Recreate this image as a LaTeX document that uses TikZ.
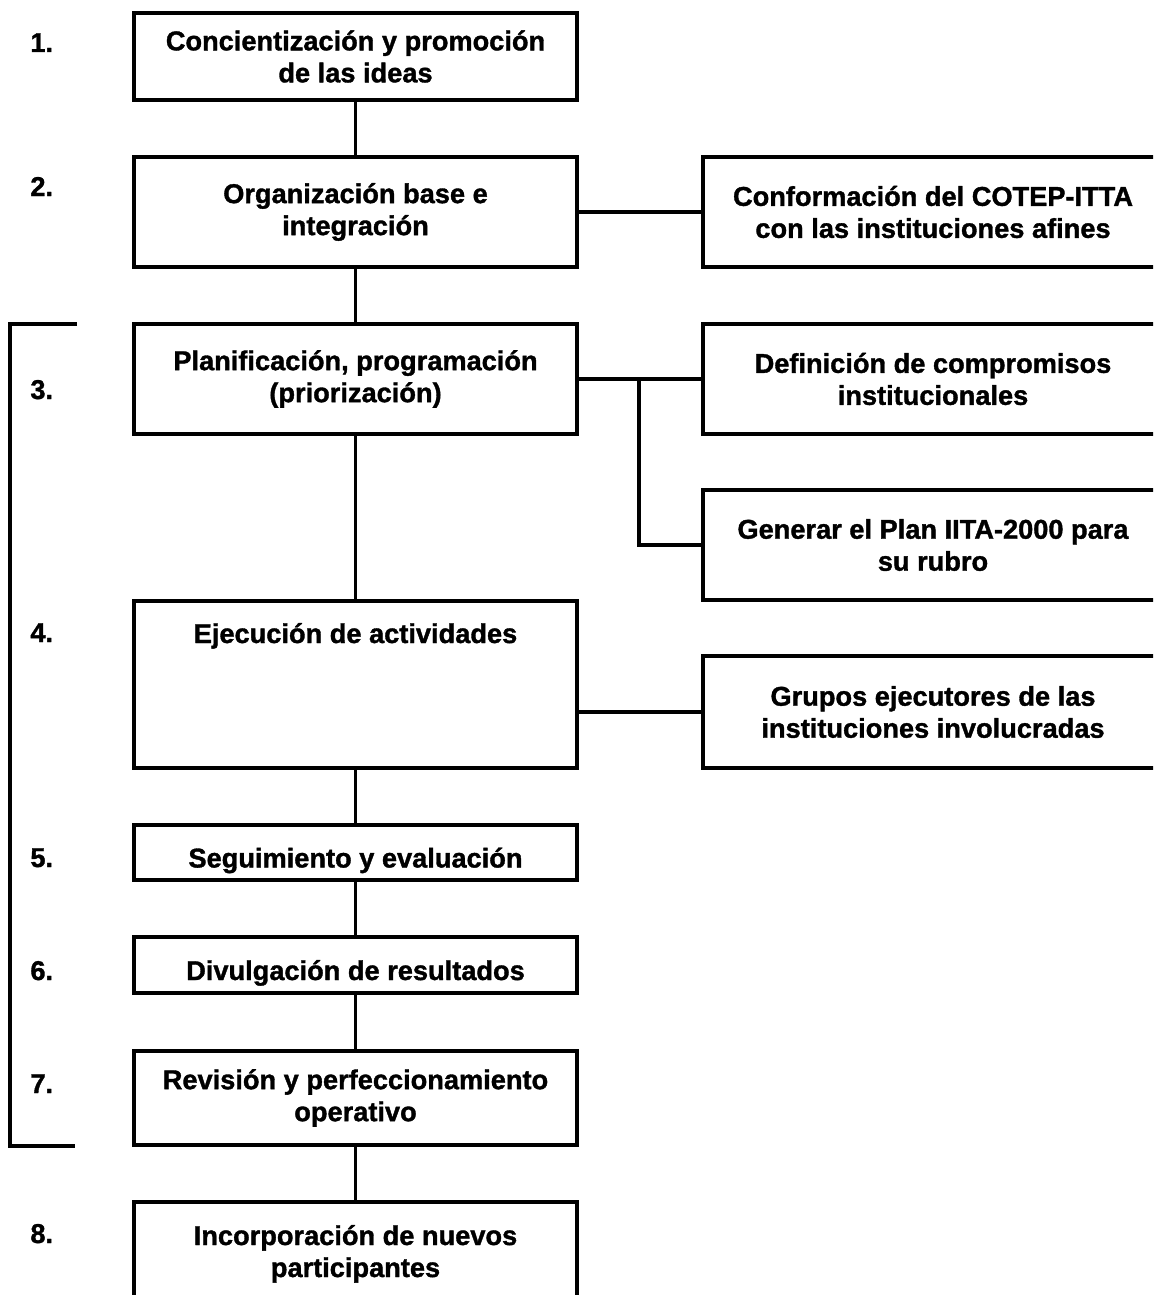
\documentclass[tikz,border=0pt]{standalone}
\usepackage{fontspec}
\setmainfont{Liberation Sans}[BoldFeatures={FakeBold=1.3}]
\begin{document}
\begin{tikzpicture}[x=0.5pt,y=-0.5pt,
  lbl/.style={font=\bfseries\fontsize{13.6}{16}\selectfont, inner sep=0pt, align=center},
  box/.style={draw, line width=1.6pt, minimum width=221.5pt, inner sep=0pt,
    align=center, font=\bfseries\fontsize{13.6}{16}\selectfont},
  rbox/.style={box, minimum width=230pt},
  low/.style={text height=15pt, text depth=0pt},
  num/.style={font=\bfseries\fontsize{13.6}{16}\selectfont, inner sep=0pt, anchor=base west},
  link/.style={line width=1.6pt}]
\clip (0,0) rectangle (1153,1295);

% main column
\node[box, minimum height=43.5pt] (b1) at (355.5,56.5) {Concientización y promoción\\de las ideas};
\node[box, minimum height=55pt] (b2) at (355.5,212) {Organización base e\\integración};
\node[box, minimum height=55pt] (b3) at (355.5,379) {Planificación, programación\\(priorización)};
\node[box, minimum height=83.5pt] (b4) at (355.5,684.5) {};
\node[lbl, anchor=base] (b4t) at (355.5,643) {Ejecución de actividades};
\node[box, low, minimum height=27.5pt] (b5) at (355.5,852.5) {Seguimiento y evaluación};
\node[box, low, minimum height=28pt] (b6) at (355.5,965) {Divulgación de resultados};
\node[box, minimum height=47pt] (b7) at (355.5,1098) {Revisión y perfeccionamiento\\operativo};
\node[box, minimum height=70pt] (b8) at (355.5,1272) {};
\node[lbl, anchor=base] (b8t) at (355.5,1277) {Incorporación de nuevos\\participantes};

% side column
\node[rbox, minimum height=55pt] (r1) at (933,212) {Conformación del COTEP-ITTA\\con las instituciones afines};
\node[rbox, minimum height=55pt] (r2) at (933,379) {Definición de compromisos\\institucionales};
\node[rbox, minimum height=55pt] (r3) at (933,545) {Generar el Plan IITA-2000 para\\su rubro};
\node[rbox, minimum height=56pt] (r4) at (933,712) {Grupos ejecutores de las\\instituciones involucradas};

% step numbers
\node[num] (n1) at (30,52) {1.};
\node[num] (n2) at (30,196) {2.};
\node[num] (n3) at (30,399) {3.};
\node[num] (n4) at (30,642) {4.};
\node[num] (n5) at (30,867) {5.};
\node[num] (n6) at (30,980) {6.};
\node[num] (n7) at (30,1093) {7.};
\node[num] (n8) at (30,1243) {8.};

% vertical chain
\draw[link] (b1.south) -- (b2.north);
\draw[link] (b2.south) -- (b3.north);
\draw[link] (b3.south) -- (b4.north);
\draw[link] (b4.south) -- (b5.north);
\draw[link] (b5.south) -- (b6.north);
\draw[link] (b6.south) -- (b7.north);
\draw[link] (b7.south) -- (b8.north);

% side links
\draw[link] (b2.east) -- (r1.west);
\draw[link] (b3.east) -- (r2.west);
\coordinate (j3) at (639,379);
\draw[link] (j3) |- (r3.west);
\draw[link] (r4.west -| b4.east) -- (r4.west);

% bracket over steps 3 to 7
\coordinate (bt) at (77,324);
\coordinate (bb) at (75,1146);
\draw[link] (bt) -- (10,324) -- (10,1146) -- (bb);
\end{tikzpicture}
\end{document}
